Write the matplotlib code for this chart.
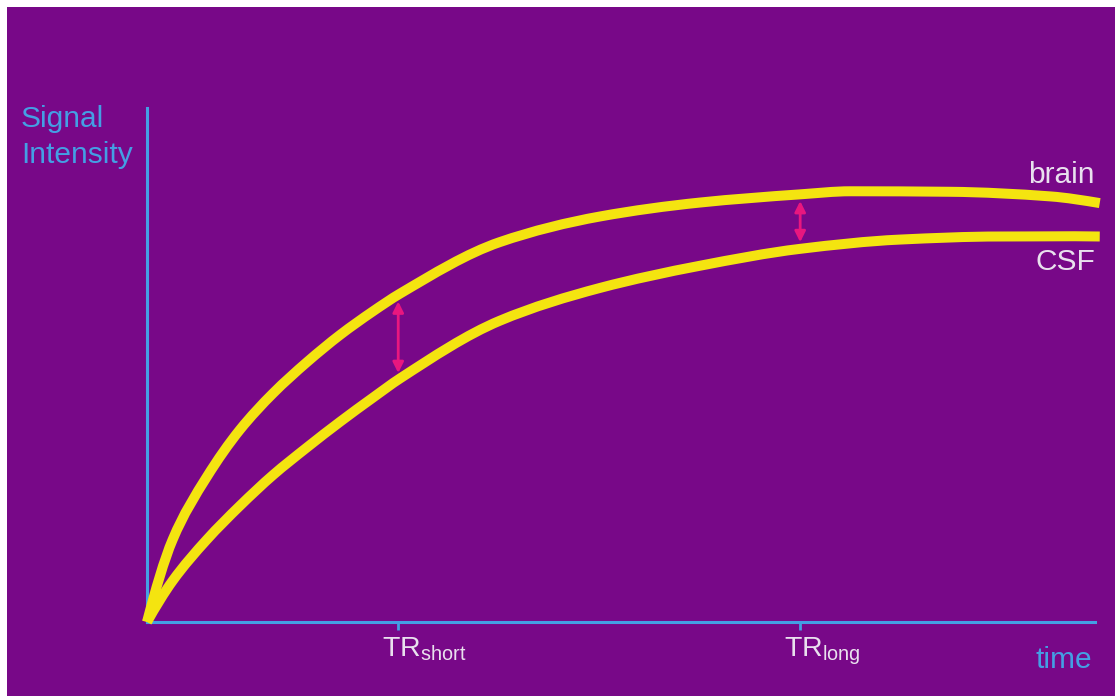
import matplotlib
matplotlib.use("Agg")
import matplotlib.pyplot as plt
from matplotlib.patches import Rectangle, PathPatch
from matplotlib.path import Path
import numpy as np

# ---- data (time and signal in arbitrary units 0-100) ----
brain_t = [0, 2.7, 6.3, 9.8, 13.3, 16.9, 20.4, 23.8, 26.7, 37.2, 47.8, 58.3, 68.9, 74.2, 84.7, 95.3, 100.5]
brain_s = [0, 16.0, 28.2, 37.4, 44.5, 50.6, 55.9, 60.4, 63.9, 73.9, 78.9, 81.6, 83.2, 83.8, 83.7, 82.8, 81.5]
csf_t = [0, 2.7, 6.3, 9.8, 13.3, 16.9, 20.4, 23.8, 26.7, 37.2, 47.8, 58.3, 68.9, 79.4, 90.0, 100.5]
csf_s = [0, 8.0, 16.0, 22.6, 28.6, 34.0, 39.0, 43.6, 47.4, 58.6, 65.0, 69.3, 72.6, 74.4, 75.0, 75.0]
tick_pos = [26.5, 68.9]
tick_names = ["short", "long"]

plt.rcParams['font.family'] = ['Liberation Sans', 'DejaVu Sans']
plt.rcParams['mathtext.fontset'] = 'custom'
plt.rcParams['mathtext.rm'] = 'Liberation Sans'
plt.rcParams['mathtext.it'] = 'Liberation Sans'
plt.rcParams['mathtext.bf'] = 'Liberation Sans'


def smooth_path(xs, ys):
    """Monotone cubic (PCHIP-style) curve through the points, as a Bezier path."""
    x = np.asarray(xs, float)
    y = np.asarray(ys, float)
    h = np.diff(x)
    d = np.diff(y) / h
    n = len(x)
    m = np.zeros(n)
    for i in range(1, n - 1):
        if d[i - 1] * d[i] <= 0:
            m[i] = 0.0
        else:
            w1 = 2 * h[i] + h[i - 1]
            w2 = h[i] + 2 * h[i - 1]
            m[i] = (w1 + w2) / (w1 / d[i - 1] + w2 / d[i])
    m[0] = ((2 * h[0] + h[1]) * d[0] - h[0] * d[1]) / (h[0] + h[1])
    m[-1] = ((2 * h[-1] + h[-2]) * d[-1] - h[-1] * d[-2]) / (h[-1] + h[-2])
    verts = [(x[0], y[0])]
    codes = [Path.MOVETO]
    for i in range(n - 1):
        verts += [(x[i] + h[i] / 3, y[i] + m[i] * h[i] / 3),
                  (x[i + 1] - h[i] / 3, y[i + 1] - m[i + 1] * h[i] / 3),
                  (x[i + 1], y[i + 1])]
        codes += [Path.CURVE4] * 3
    return Path(np.array(verts), codes)


W, H = 1115, 696
fig = plt.figure(figsize=(W / 100, H / 100), dpi=100, facecolor='white')
purple = '#780888'
fig.patches.append(Rectangle((7 / W, 0), 1 - 7 / W, 1 - 7 / H, transform=fig.transFigure,
                             facecolor=purple, edgecolor='none', zorder=-10))

ax = fig.add_axes([147 / W, (H - 622) / H, 948 / W, 514 / H])
ax.set_facecolor('none')
ax.set_xlim(0, 100)
ax.set_ylim(0, 100)
blue = '#449FE4'
for side in ['top', 'right']:
    ax.spines[side].set_visible(False)
for side in ['left', 'bottom']:
    ax.spines[side].set_color(blue)
    ax.spines[side].set_linewidth(2.2)
ax.set_yticks([])
ax.set_xticks(tick_pos)
ax.set_xticklabels([])
ax.tick_params(axis='x', direction='out', length=6, width=2, color=blue)

yellow = '#F4E410'
for tt, ss in [(brain_t, brain_s), (csf_t, csf_s)]:
    ax.add_patch(PathPatch(smooth_path(tt, ss), facecolor='none', edgecolor=yellow, lw=7.2,
                           capstyle='butt', joinstyle='round', clip_on=False, zorder=3))

magenta = '#E8177F'
for tp in tick_pos:
    top = np.interp(tp, brain_t, brain_s) - 1.3
    bot = np.interp(tp, csf_t, csf_s) + 1.3
    ax.annotate('', xy=(tp, bot), xytext=(tp, top),
                arrowprops=dict(arrowstyle='<|-|>', color=magenta, lw=2.0,
                                mutation_scale=16, shrinkA=0, shrinkB=0), zorder=4)

light = '#E9E1EE'
for tp, nm in zip(tick_pos, tick_names):
    ax.annotate(r'TR$_{\mathrm{' + nm + '}}$', xy=(tp, 0), xycoords='data',
                xytext=(-12, -25), textcoords='offset points', ha='left', va='baseline',
                color=light, fontsize=20.5, annotation_clip=False)

ax.annotate('time', xy=(1092, H - 668), xycoords='figure pixels', ha='right', va='baseline',
            color=blue, fontsize=21.5)
ax.annotate('brain', xy=(1095, H - 183), xycoords='figure pixels', ha='right', va='baseline',
            color=light, fontsize=21.5)
ax.annotate('CSF', xy=(1095, H - 270), xycoords='figure pixels', ha='right', va='baseline',
            color=light, fontsize=21.5)
ax.annotate('Signal', xy=(21, H - 127), xycoords='figure pixels', ha='left', va='baseline',
            color=blue, fontsize=21.5)
ax.annotate('Intensity', xy=(21, H - 163), xycoords='figure pixels', ha='left', va='baseline',
            color=blue, fontsize=21.5)

fig.savefig('out.png', dpi=100, facecolor='white')
